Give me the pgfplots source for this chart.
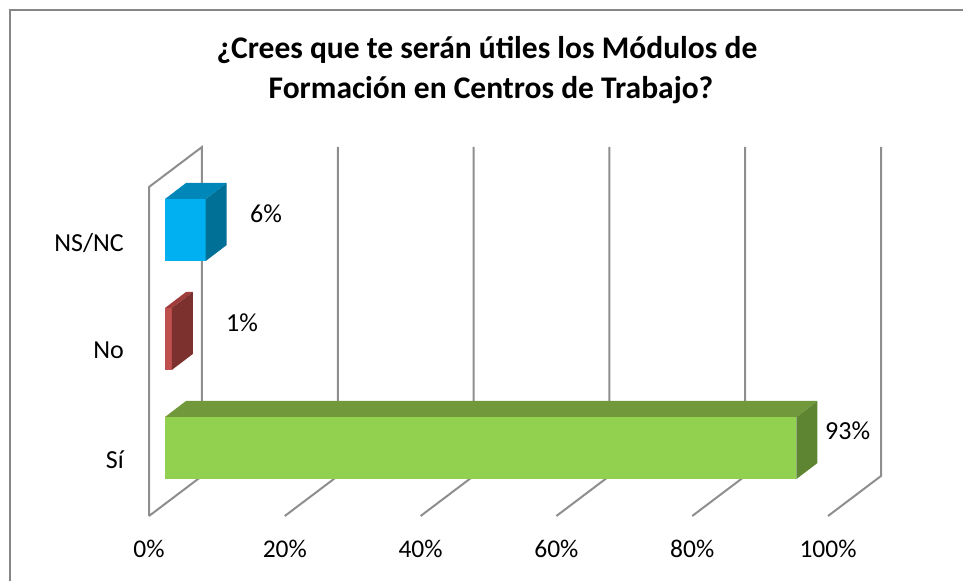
\documentclass[border=0pt]{standalone}
\usepackage{pgfplots}
\pgfplotsset{compat=1.18}
\usepackage{fontspec}
\setmainfont{Carlito}
\definecolor{gridc}{HTML}{8E8E8E}
\definecolor{borderc}{HTML}{868686}
\definecolor{gF}{HTML}{92D050}
\definecolor{gT}{HTML}{71993C}
\definecolor{gS}{HTML}{5E8532}
\definecolor{bF}{HTML}{00B0F0}
\definecolor{bT}{HTML}{0087B9}
\definecolor{bS}{HTML}{007096}
\definecolor{rF}{HTML}{C0504D}
\definecolor{rT}{HTML}{A03C39}
\definecolor{rS}{HTML}{7C312F}
\begin{document}
\begin{tikzpicture}
\begin{axis}[
  x=6.79pt, y=1pt,
  xmin=-24.300, xmax=117.526, ymin=0, ymax=581,
  axis line style={draw=none},
  tick style={draw=none},
  xtick={-2.356,17.644,37.644,57.644,77.644,97.644},
  xticklabels={0\%,20\%,40\%,60\%,80\%,100\%},
  ytick={113,222,329},
  yticklabels={Sí,No,NS/NC},
  xticklabel style={anchor=base, inner sep=0pt, yshift=24pt, font=\fontsize{25.5}{30}\selectfont},
  yticklabel style={anchor=base east, inner sep=0pt, xshift=124pt, font=\fontsize{26}{30}\selectfont},
  nodes near coords style={anchor=base west, inner sep=0pt, font=\fontsize{26}{30}\selectfont},
]
% chart border
\draw[borderc, line width=2pt] (axis cs:-22.827,0) -- (axis cs:-22.827,571) -- (axis cs:117.526,571);
% title
\node[anchor=base, font=\bfseries\fontsize{31.5}{36}\selectfont] at (axis cs:47.42,522) {¿Crees que te serán útiles los Módulos de};
\node[anchor=base, font=\bfseries\fontsize{31.5}{36}\selectfont] at (axis cs:48.01,482) {Formación en Centros de Trabajo?};
% left wall
\addplot[gridc, line width=2pt, mark=none] coordinates {(-2.356,65) (-2.356,394) (5.449,434) (5.449,105) (-2.356,65)};
% gridlines
\addplot[gridc, line width=2pt, mark=none] coordinates {(17.644,65) (25.449,105) (25.449,434)};
\addplot[gridc, line width=2pt, mark=none] coordinates {(37.644,65) (45.449,105) (45.449,434)};
\addplot[gridc, line width=2pt, mark=none] coordinates {(57.644,65) (65.449,105) (65.449,434)};
\addplot[gridc, line width=2pt, mark=none] coordinates {(77.644,65) (85.449,105) (85.449,434)};
\addplot[gridc, line width=2pt, mark=none] coordinates {(97.644,65) (105.449,105) (105.449,434)};
% Si bar
\addplot[xbar, bar width=62pt, bar shift=0pt, fill=gF, draw=none] coordinates {(93,133)};
\addplot[fill=gT, draw=none, mark=none] coordinates {(0,164) (93,164) (96.093,180) (3.093,180)};
\addplot[fill=gS, draw=none, mark=none] coordinates {(93,102) (93,164) (96.093,180) (96.093,118)};
% No bar
\addplot[xbar, bar width=62pt, bar shift=0pt, fill=rF, draw=none] coordinates {(1,242)};
\addplot[fill=rT, draw=none, mark=none] coordinates {(0,273) (1,273) (4.093,289) (3.093,289)};
\addplot[fill=rS, draw=none, mark=none] coordinates {(1,211) (1,273) (4.093,289) (4.093,227)};
% NS/NC bar
\addplot[xbar, bar width=62pt, bar shift=0pt, fill=bF, draw=none] coordinates {(6,351)};
\addplot[fill=bT, draw=none, mark=none] coordinates {(0,382) (6,382) (9.093,398) (3.093,398)};
\addplot[fill=bS, draw=none, mark=none] coordinates {(6,320) (6,382) (9.093,398) (9.093,336)};
% value labels
\addplot[draw=none, mark=none, nodes near coords, point meta=explicit symbolic] coordinates {(97.20,141)[93\%] (8.98,249)[1\%] (12.52,358)[6\%]};
\end{axis}
\end{tikzpicture}
\end{document}
